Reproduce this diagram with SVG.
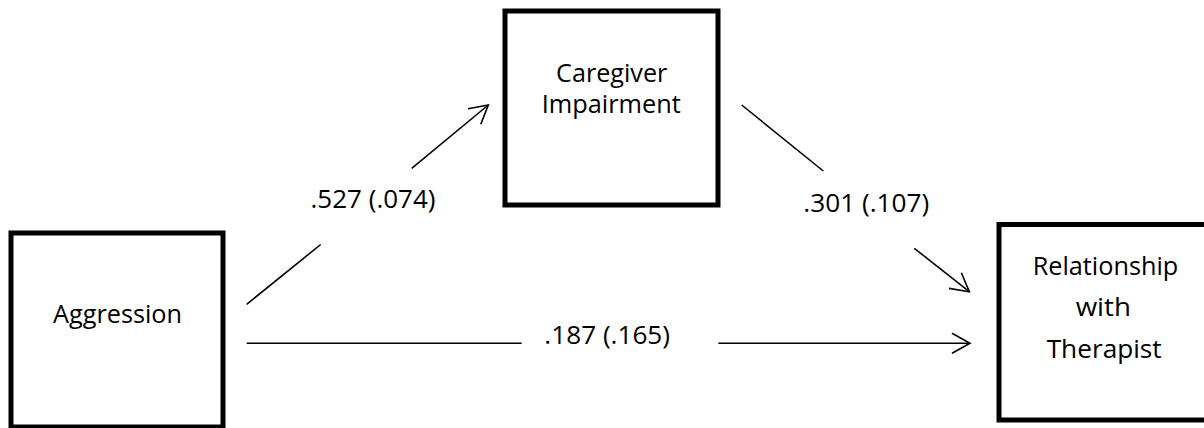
<svg xmlns="http://www.w3.org/2000/svg" width="1204" height="428" viewBox="0 0 1204 428">
<style>
.box{fill:#fff;stroke:#000;stroke-width:5}
.lbl{font-family:"Open Sans","Liberation Sans",sans-serif;font-size:25.5px;fill:#000;text-anchor:middle}
.ln{stroke:#000;stroke-width:1.6;fill:none}
</style>
<defs>
<marker id="arr" viewBox="-22 -12 24 24" markerWidth="24" markerHeight="24" refX="0" refY="0" orient="auto" markerUnits="userSpaceOnUse">
<path d="M-18,-10 L0,0 L-18,10" fill="none" stroke="#000" stroke-width="1.6"/>
</marker>
</defs>
<g id="connectors">
<line class="ln" x1="246.7" y1="304.3" x2="320.7" y2="244.5"/>
<line class="ln" x1="411.7" y1="168.3" x2="488.3" y2="105" marker-end="url(#arr)"/>
<line class="ln" x1="741.7" y1="105" x2="823.3" y2="171"/>
<line class="ln" x1="914.3" y1="248.3" x2="969.3" y2="291.7" marker-end="url(#arr)"/>
<line class="ln" x1="246.7" y1="343.3" x2="521.7" y2="343.3"/>
<line class="ln" x1="718.3" y1="343.3" x2="970" y2="343.3" marker-end="url(#arr)"/>
<text class="lbl" x="373" y="207.7" textLength="125" lengthAdjust="spacingAndGlyphs">.527 (.074)</text>
<text class="lbl" x="866.3" y="211.7" textLength="126" lengthAdjust="spacingAndGlyphs">.301 (.107)</text>
<text class="lbl" x="607.2" y="344.3" textLength="125.7" lengthAdjust="spacingAndGlyphs">.187 (.165)</text>
</g>
<g id="aggression">
<rect class="box" x="11" y="233" width="212" height="194"/>
<text class="lbl" x="117.5" y="323.3" textLength="129" lengthAdjust="spacingAndGlyphs">Aggression</text>
</g>
<g id="caregiver">
<rect class="box" x="505" y="11" width="213" height="194"/>
<text class="lbl" x="611.7" y="81.7" textLength="111.3" lengthAdjust="spacingAndGlyphs">Caregiver</text>
<text class="lbl" x="611.2" y="113.3" textLength="139" lengthAdjust="spacingAndGlyphs">Impairment</text>
</g>
<g id="relationship">
<rect class="box" x="999" y="224.5" width="213" height="195.5"/>
<text class="lbl" x="1105.5" y="275" textLength="145.6" lengthAdjust="spacingAndGlyphs">Relationship</text>
<text class="lbl" x="1103.3" y="315.7" textLength="55.3" lengthAdjust="spacingAndGlyphs">with</text>
<text class="lbl" x="1104.2" y="357.7" textLength="115" lengthAdjust="spacingAndGlyphs">Therapist</text>
</g>
</svg>
